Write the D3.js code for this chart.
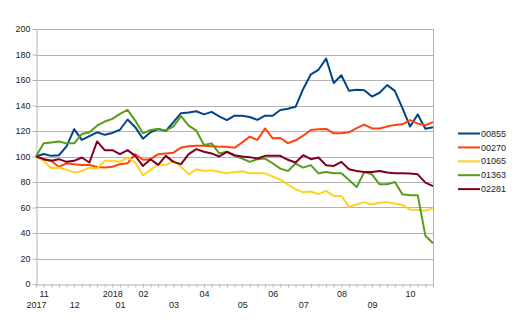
<!DOCTYPE html>
<html>
<head>
<meta charset="utf-8">
<script src="https://cdn.jsdelivr.net/npm/d3@7/dist/d3.min.js"></script>
<style>
  html, body { margin: 0; padding: 0; background: #fff; }
  svg { display: block; font-family: "Liberation Sans", Arial, sans-serif; }
</style>
</head>
<body>
<svg id="chart" width="522" height="334"></svg>
<script>
// ---- data ----
const weeks = d3.range(53);
const xLabels = ["2017","11","","","","12","","","","","2018","01","","","02","","","","03","","","","04","","","","","05","","","","06","","","","07","","","","","08","","","","09","","","","","10","","",""];
const seriesNames = ["00855", "00270", "01065", "01363", "02281"];
const s00855 = [100,102,100.5,101,108,121.5,113,116,119,117,118.5,121,129,123,114,119,121.5,120,127,134,134.5,135.5,133,135,131.5,128.5,132,132,131,128.7,132,132,136.5,137.5,139,153,164.5,168,176.8,157.6,163.7,151.5,152.3,152,147,150,156,151.5,138,123.5,133,121.8,123];
const s00270 = [100,97.9,96.6,91.8,94.7,94,93.4,93.4,91.8,91.3,92,94,94.7,101.8,97.4,97.9,101.8,102.4,103,107,108,108.4,108.4,108,107.6,107.6,106.8,111,115.6,113,122,114.3,114.5,110.5,112.7,116.3,120.8,121.3,121.6,118.2,118.2,119,122.2,125,122,122,123.5,124.8,125.2,128.5,125.8,124.5,127];
const s01065 = [100,96.6,90.8,91.3,89.5,87.4,88.7,91.3,90.5,96.6,96.6,95.8,99.2,95.3,85.3,89.5,94,93.2,96.6,91.8,86,90,88.7,89.2,88,86.8,87.9,88.4,86.8,86.8,86.8,84.2,82,78,74.2,72,72.6,70.5,73,69,69,60.5,62.4,64.2,62.4,63.7,64.2,63.2,62,58.4,58,57.5,59.5];
const s01363 = [100,110.3,111,111.8,110.3,110.3,117.6,119,124.2,127.4,129.5,133.4,136.6,128.2,118.2,120.8,121.6,120.3,123.7,131.6,124.2,120.3,109,110.3,102.4,103.7,100.5,98.4,95.8,97.9,98.4,94.7,90.5,88.7,94.5,91.3,93.2,86.8,87.9,86.8,86.8,81.6,76,87.9,86,78.2,78.2,80,70.3,69.7,69.7,37.9,32];
const s02281 = [100,97.9,96.6,97.9,95.8,96.6,99.2,95.3,111.8,105,105,101.8,105,100.5,92.6,97.9,93.4,100.5,95.8,94,101.8,105.8,103.7,102.4,100,103.7,101,100,99.5,98.4,100.5,100.5,100.5,97.4,95.3,101,97.9,99.2,93.2,92.6,95.8,90,88.7,87.9,87.9,88.7,87.4,86.8,86.8,86.6,86,79.5,76.8];
const seriesValues = [s00855, s00270, s01065, s01363, s02281];
const colors = ["#004586", "#ff420e", "#ffd320", "#579d1c", "#7e0021"];
const yTicks = d3.range(0, 201, 20);

// ---- layout ----
const svg = d3.select("#chart");
const mLeft = 36, mRight = 433, mTop = 29, mBottom = 284;
const x = d3.scalePoint().domain(weeks).range([mLeft, mRight]);
const y = d3.scaleLinear().domain([0, 200]).range([mBottom, mTop]);
const gridColor = "#b3b3b3";
const textColor = "#222222";

// gridlines
svg.append("g").selectAll("line").data(yTicks.filter(v => v > 0)).join("line")
  .attr("x1", mLeft).attr("x2", mRight)
  .attr("y1", d => Math.round(y(d)) + 0.5).attr("y2", d => Math.round(y(d)) + 0.5)
  .attr("stroke", gridColor).attr("stroke-width", 1);
// right border
svg.append("line").attr("x1", mRight + 0.5).attr("x2", mRight + 0.5)
  .attr("y1", mTop).attr("y2", mBottom).attr("stroke", gridColor);

// y axis
const yAxis = svg.append("g").attr("transform", `translate(${mLeft + 0.5},0)`)
  .call(d3.axisLeft(y).tickValues(yTicks).tickSize(4).tickSizeOuter(0).tickPadding(2));
yAxis.select(".domain").attr("stroke", gridColor);
yAxis.selectAll(".tick line").attr("stroke", gridColor);
yAxis.selectAll("text").attr("fill", textColor).style("font-size", "9px")
  .attr("font-family", "Liberation Sans, Arial, sans-serif");

// x axis
const xAxis = svg.append("g").attr("transform", `translate(0,${mBottom + 0.5})`)
  .call(d3.axisBottom(x).tickValues(weeks).tickSize(3).tickSizeOuter(0)
    .tickFormat(i => xLabels[i]));
xAxis.select(".domain").attr("stroke", gridColor);
xAxis.selectAll(".tick line").attr("stroke", gridColor);
let k = 0;
xAxis.selectAll(".tick text").each(function(i) {
  const t = d3.select(this);
  if (xLabels[i] === "") return;
  const row = (k % 2 === 0) ? 2 : 1;
  k++;
  t.attr("y", row === 1 ? 6 : 17).attr("dy", "0.71em");
}).attr("fill", textColor).style("font-size", "9px")
  .attr("font-family", "Liberation Sans, Arial, sans-serif");

// lines
const line = d3.line().x((d, i) => x(weeks[i])).y(d => y(d));
svg.append("g").selectAll("path").data(seriesValues).join("path")
  .attr("d", d => line(d))
  .attr("fill", "none")
  .attr("stroke", (d, i) => colors[i])
  .attr("stroke-width", 2)
  .attr("stroke-linejoin", "round");

// legend
const legend = svg.append("g").selectAll("g").data(seriesNames).join("g")
  .attr("transform", (d, i) => `translate(458,${133.5 + i * 13.9})`);
legend.append("line").attr("x1", 0).attr("x2", 22).attr("y1", 0).attr("y2", 0)
  .attr("stroke", (d, i) => colors[i]).attr("stroke-width", 2);
legend.append("text").attr("x", 23).attr("y", 0).attr("dy", "0.35em")
  .attr("fill", textColor).style("font-size", "9px").text(d => d);
</script>
</body>
</html>
